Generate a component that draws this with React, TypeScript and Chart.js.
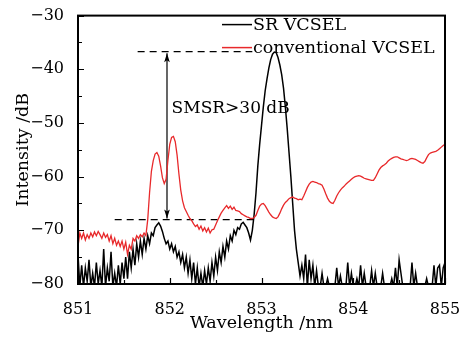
import { useEffect, useRef } from "react";
import { Chart, registerables } from "chart.js";

Chart.register(...registerables);

// Sampling grid of the spectra (nm)
const startWavelength = 851;
const stepWavelength = 0.02;

// SR VCSEL spectrum (dB), one value per 0.02 nm, rows of 10 starting at the commented wavelength
const srVcsel = [
  /* 851.00 */ -74.5, -80.5, -76.5, -80.5, -77, -79.5, -75.5, -80.5, -78, -80.5,
  /* 851.20 */ -76, -80, -77.5, -80.5, -73.5, -80.5, -77, -79.5, -74, -80.5,
  /* 851.40 */ -78, -80.5, -76.5, -80, -76, -79, -75, -79, -74, -77,
  /* 851.60 */ -73.5, -76.5, -72.5, -75, -72, -74.5, -71.5, -73.5, -71, -72.5,
  /* 851.80 */ -70.5, -71, -69.5, -69, -68.6, -69.2, -70.2, -71.5, -72.5, -72,
  /* 852.00 */ -73.5, -72.5, -74, -73, -75, -74, -76, -74.5, -77, -75,
  /* 852.20 */ -78, -75.5, -79, -76, -80, -77, -80.5, -78, -80.5, -77.5,
  /* 852.40 */ -80, -77, -79.5, -76, -78.5, -75, -77.5, -74, -76, -73,
  /* 852.60 */ -75, -72, -73.5, -71, -72, -70, -70.8, -69.5, -69.8, -68.8,
  /* 852.80 */ -68.5, -69, -69.5, -70.5, -71.8, -70, -67, -63, -58, -54,
  /* 853.00 */ -50.5, -47, -44, -41.8, -39.8, -38.2, -37.2, -36.8, -36.9, -37.8,
  /* 853.20 */ -39.2, -41, -43.5, -47, -51, -55.5, -60, -65, -70, -73.5,
  /* 853.40 */ -76, -78.5, -76.5, -79, -74.5, -80.5, -75.5, -79, -76.5, -80.5,
  /* 853.60 */ -77.5, -80.5, -80.5, -78, -80.5, -80.5, -79, -80.5, -80.5, -80.5,
  /* 853.80 */ -80.5, -77, -80.5, -78.5, -80.5, -80.5, -80.5, -76, -80.5, -78,
  /* 854.00 */ -80.5, -80.5, -79, -80.5, -76.5, -80.5, -78, -80.5, -80.5, -80.5,
  /* 854.20 */ -77.5, -80.5, -78, -80.5, -80.5, -80.5, -78, -80.5, -80.5, -80.5,
  /* 854.40 */ -80.5, -79, -80.5, -77, -80.5, -75.5, -78, -80.5, -80.5, -80.5,
  /* 854.60 */ -80.5, -80.5, -76, -80.5, -78, -80.5, -80.5, -80.5, -80.5, -80.5,
  /* 854.80 */ -79, -80.5, -80.5, -80.5, -76.5, -80.5, -77, -76.5, -80.5, -77,
  /* 855.00 */ -76,
];

// Conventional VCSEL spectrum (dB)
const conventionalVcsel = [
  /* 851.00 */ -73, -70.5, -71.5, -70.5, -71.8, -70.8, -71.5, -70.5, -71.2, -70.3,
  /* 851.20 */ -71, -70.2, -70.8, -71.5, -70.5, -71.3, -70.8, -72, -71, -72.5,
  /* 851.40 */ -71.5, -72.8, -72, -73, -72, -73.5, -72.2, -74.5, -72.8, -73.5,
  /* 851.60 */ -71.5, -72, -71, -71.5, -70.8, -71.2, -70.5, -71, -68, -63,
  /* 851.80 */ -59, -57, -55.8, -55.5, -56.2, -58, -60.2, -61.3, -60.5, -57,
  /* 852.00 */ -54, -52.7, -52.5, -53.5, -56, -59.5, -62.5, -64.5, -65.8, -66.5,
  /* 852.20 */ -67.2, -67.8, -68.2, -68.8, -69.3, -69.0, -69.8, -69.2, -70.1, -69.5,
  /* 852.40 */ -70.3, -69.6, -70.5, -69.9, -69.8, -69, -68.2, -67.5, -66.8, -66.3,
  /* 852.60 */ -65.8, -65.4, -65.9, -65.5, -66.1, -65.7, -66.3, -66.4, -66.5, -66.9,
  /* 852.80 */ -67.1, -67.3, -67.5, -67.6, -67.8, -67.8, -67.6, -67.2, -66.3, -65.5,
  /* 853.00 */ -65.1, -65.0, -65.4, -66.0, -66.6, -67.1, -67.5, -67.7, -67.8, -67.5,
  /* 853.20 */ -66.8, -66.0, -65.3, -64.8, -64.5, -64.1, -63.9, -63.8, -64.0, -64.1,
  /* 853.40 */ -64.3, -64.2, -64.3, -63.6, -62.8, -62.0, -61.4, -61.0, -60.9, -61.0,
  /* 853.60 */ -61.1, -61.3, -61.4, -61.6, -62.3, -63.2, -64.0, -64.6, -64.9, -65.0,
  /* 853.80 */ -64.4, -63.6, -63.0, -62.5, -62.1, -61.8, -61.4, -61.1, -60.8, -60.5,
  /* 854.00 */ -60.2, -60.0, -59.9, -59.8, -59.9, -60.1, -60.3, -60.4, -60.5, -60.6,
  /* 854.20 */ -60.7, -60.7, -60.2, -59.5, -58.8, -58.3, -58.0, -57.8, -57.5, -57.1,
  /* 854.40 */ -56.8, -56.6, -56.4, -56.3, -56.3, -56.5, -56.7, -56.8, -56.9, -57.0,
  /* 854.60 */ -56.9, -56.7, -56.6, -56.7, -56.8, -57.0, -57.2, -57.4, -57.5, -57.2,
  /* 854.80 */ -56.5, -55.9, -55.6, -55.5, -55.4, -55.3, -55.1, -54.8, -54.5, -54.2,
  /* 855.00 */ -54.0,
];

// Axis ticks
const xTicks = [851, 852, 853, 854, 855];
const xMinorTicks = [851.5, 852.5, 853.5, 854.5];
const yTicks = [-80, -70, -60, -50, -40, -30];
const yMinorTicks = [-75, -65, -55, -45, -35];

// SMSR annotation
const upperRefX = [851.65, 852.9];
const upperRefY = -36.7;
const lowerRefX = [851.4, 852.91];
const lowerRefY = -68;
const arrowX = 851.97;
const arrowY = [-37, -67.8];
const annotationText = "SMSR>30 dB";
const annotationAt = [852.02, -47.4];

const legendLabels = ["SR VCSEL", "conventional VCSEL"];
const seriesColors = ["#000000", "#e8292b"];

const SERIF = '"DejaVu Serif", serif';

function toPoints(values: number[]) {
  return values.map((v, i) => ({ x: startWavelength + i * stepWavelength, y: v }));
}

const decorPlugin = {
  id: "decor",
  afterDatasetsDraw(chart: any) {
    const { ctx, chartArea: a, scales } = chart;
    const xs = scales.x;
    const ys = scales.y;
    ctx.save();

    // arrow heads
    const ax = xs.getPixelForValue(arrowX);
    const yt = ys.getPixelForValue(arrowY[0]);
    const yb = ys.getPixelForValue(arrowY[1]);
    ctx.fillStyle = "#000";
    ctx.beginPath();
    ctx.moveTo(ax, yt);
    ctx.lineTo(ax - 2.8, yt + 9);
    ctx.lineTo(ax, yt + 7);
    ctx.lineTo(ax + 2.8, yt + 9);
    ctx.closePath();
    ctx.fill();
    ctx.beginPath();
    ctx.moveTo(ax, yb);
    ctx.lineTo(ax - 2.8, yb - 9);
    ctx.lineTo(ax, yb - 7);
    ctx.lineTo(ax + 2.8, yb - 9);
    ctx.closePath();
    ctx.fill();

    // annotation text
    ctx.font = `17px ${SERIF}`;
    ctx.textAlign = "left";
    ctx.textBaseline = "middle";
    ctx.fillStyle = "#000";
    ctx.fillText(annotationText, xs.getPixelForValue(annotationAt[0]), ys.getPixelForValue(annotationAt[1]));

    // legend
    const lx = a.left + 144;
    const ly = a.top + 9;
    legendLabels.forEach((label, i) => {
      const yy = ly + i * 23;
      ctx.strokeStyle = seriesColors[i];
      ctx.lineWidth = 1.5;
      ctx.beginPath();
      ctx.moveTo(lx, yy);
      ctx.lineTo(lx + 30, yy);
      ctx.stroke();
      ctx.fillStyle = "#000";
      ctx.font = `17.5px ${SERIF}`;
      ctx.fillText(label, lx + 31, yy + 1);
    });

    // ticks (inward)
    ctx.strokeStyle = "#000";
    ctx.lineWidth = 1.2;
    ctx.beginPath();
    yTicks.forEach((t) => {
      const p = Math.round(ys.getPixelForValue(t)) + 0.5;
      ctx.moveTo(a.left, p);
      ctx.lineTo(a.left + 6, p);
    });
    yMinorTicks.forEach((t) => {
      const p = Math.round(ys.getPixelForValue(t)) + 0.5;
      ctx.moveTo(a.left, p);
      ctx.lineTo(a.left + 4, p);
    });
    xTicks.forEach((t) => {
      const p = Math.round(xs.getPixelForValue(t)) + 0.5;
      ctx.moveTo(p, a.bottom);
      ctx.lineTo(p, a.bottom - 6);
    });
    xMinorTicks.forEach((t) => {
      const p = Math.round(xs.getPixelForValue(t)) + 0.5;
      ctx.moveTo(p, a.bottom);
      ctx.lineTo(p, a.bottom - 4);
    });
    ctx.stroke();

    // frame
    ctx.lineWidth = 2;
    ctx.strokeRect(a.left, a.top, a.right - a.left, a.bottom - a.top);
    ctx.restore();
  },
};

export default function App() {
  const ref = useRef<HTMLCanvasElement | null>(null);

  useEffect(() => {
    if (!ref.current) return;
    const chart = new Chart(ref.current, {
      type: "line",
      data: {
        datasets: [
          {
            label: legendLabels[1],
            data: toPoints(conventionalVcsel),
            borderColor: seriesColors[1],
            borderWidth: 1.3,
            pointRadius: 0,
            tension: 0,
          },
          {
            label: legendLabels[0],
            data: toPoints(srVcsel),
            borderColor: seriesColors[0],
            borderWidth: 1.5,
            pointRadius: 0,
            tension: 0,
          },
          {
            label: "upper",
            data: upperRefX.map((x) => ({ x, y: upperRefY })),
            borderColor: "#000",
            borderWidth: 1.2,
            borderDash: [7, 5],
            pointRadius: 0,
          },
          {
            label: "lower",
            data: lowerRefX.map((x) => ({ x, y: lowerRefY })),
            borderColor: "#000",
            borderWidth: 1.2,
            borderDash: [7, 5],
            pointRadius: 0,
          },
          {
            label: "arrow",
            data: arrowY.map((y) => ({ x: arrowX, y })),
            borderColor: "#000",
            borderWidth: 1.2,
            pointRadius: 0,
          },
        ],
      },
      options: {
        responsive: false,
        animation: false,
        events: [],
        layout: { padding: { top: 14, right: 31, left: 0, bottom: 0 } },
        plugins: { legend: { display: false }, tooltip: { enabled: false } },
        scales: {
          x: {
            type: "linear",
            min: 851,
            max: 855,
            grid: { display: false },
            border: { display: false },
            afterBuildTicks: (s: any) => {
              s.ticks = xTicks.map((v) => ({ value: v }));
            },
            afterFit: (s: any) => {
              s.height = 54;
            },
            ticks: {
              color: "#000",
              padding: 8,
              font: { family: SERIF, size: 16 },
              callback: (v: any) => String(v),
            },
            title: {
              display: true,
              text: "Wavelength /nm",
              color: "#000",
              font: { family: SERIF, size: 17.5 },
              padding: { top: 0, bottom: 4 },
            },
          },
          y: {
            type: "linear",
            min: -80,
            max: -30,
            grid: { display: false },
            border: { display: false },
            afterBuildTicks: (s: any) => {
              s.ticks = yTicks.map((v) => ({ value: v }));
            },
            afterFit: (s: any) => {
              s.width = 78;
            },
            ticks: {
              color: "#000",
              padding: 6,
              font: { family: SERIF, size: 16 },
              callback: (v: any) => (v < 0 ? "\u2212" : "") + Math.abs(v),
            },
            title: {
              display: true,
              text: "Intensity /dB",
              color: "#000",
              font: { family: SERIF, size: 17.5 },
              padding: { top: 13, bottom: 0 },
            },
          },
        },
      },
      plugins: [decorPlugin],
    });
    return () => chart.destroy();
  }, []);

  return (
    <div style={{ position: "absolute", left: 0, top: 0, width: 476, height: 338, background: "#fff" }}>
      <canvas ref={ref} width={476} height={338} />
    </div>
  );
}
